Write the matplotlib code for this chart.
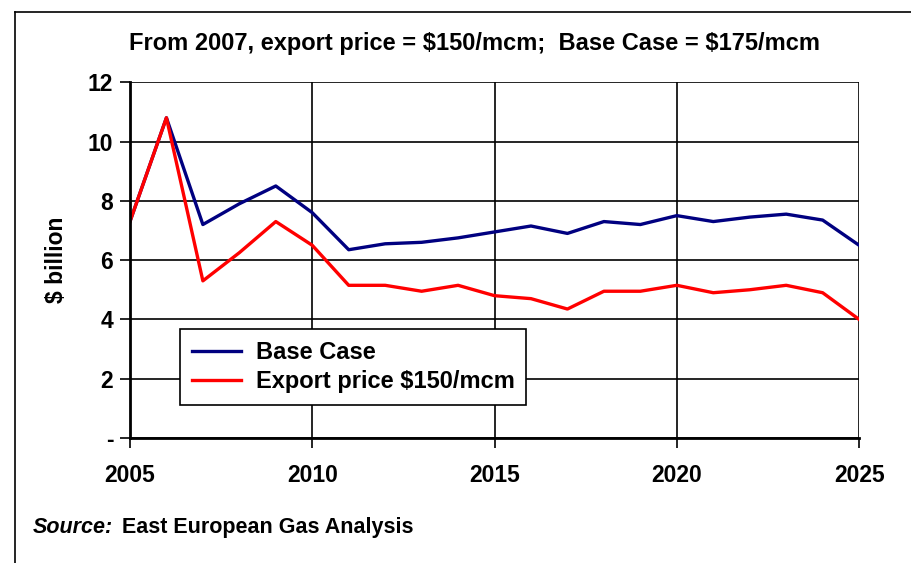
import matplotlib
matplotlib.use("Agg")
from matplotlib import pyplot as plt
from matplotlib.lines import Line2D

years = list(range(2005, 2026))
base_case = [7.3, 10.8, 7.2, 7.9, 8.5, 7.6, 6.35, 6.55, 6.6, 6.75, 6.95,
             7.15, 6.9, 7.3, 7.2, 7.5, 7.3, 7.45, 7.55, 7.35, 6.5]
export_150 = [7.3, 10.8, 5.3, 6.25, 7.3, 6.5, 5.15, 5.15, 4.95, 5.15, 4.8,
              4.7, 4.35, 4.95, 4.95, 5.15, 4.9, 5.0, 5.15, 4.9, 4.0]
y_ticks = [0, 2, 4, 6, 8, 10, 12]
y_labels = ['-', '2', '4', '6', '8', '10', '12']
x_ticks = [2005, 2010, 2015, 2020, 2025]

plt.rcParams['font.family'] = ['Liberation Sans', 'DejaVu Sans']
plt.rcParams['font.weight'] = 'bold'
plt.rcParams['text.parse_math'] = False

fig = plt.figure(figsize=(9.12, 5.63), dpi=100)
ax = fig.add_axes([0.1425, 0.222, 0.7995, 0.632])

# 线条
ax.plot(years, base_case, color='#000080', lw=2.4, label='Base Case')
ax.plot(years, export_150, color='#ff0000', lw=2.4, label='Export price $150/mcm')

ax.set_xlim(2005, 2025)
ax.set_ylim(0, 12)
ax.set_xticks(x_ticks)
ax.set_yticks(y_ticks)
ax.set_yticklabels(y_labels)
ax.grid(True, color='black', lw=1.2)
ax.tick_params(axis='both', direction='out', length=7, width=1.2, labelsize=16.5, pad=5)
ax.tick_params(axis='x', pad=12)
for s in ['top', 'right']:
    ax.spines[s].set_visible(False)
for s in ['left', 'bottom']:
    ax.spines[s].set_linewidth(2)

ax.set_ylabel('$ billion', fontsize=16.5, fontweight='bold', labelpad=14)

# 图例
leg = ax.legend(loc='lower left', bbox_to_anchor=(0.0686, 0.093), borderaxespad=0,
                fontsize=17, frameon=True, fancybox=False, edgecolor='black',
                framealpha=1, handlelength=2.1, handletextpad=0.6,
                borderpad=0.5, labelspacing=0.25)
leg.get_frame().set_linewidth(1.2)

fig.text(0.52, 0.923, 'From 2007, export price = $150/mcm;  Base Case = $175/mcm',
         ha='center', va='center', fontsize=17, fontweight='bold')
fig.text(0.036, 0.063, 'Source:', style='italic', fontsize=15.5, fontweight='bold',
         ha='left', va='center')
fig.text(0.134, 0.063, 'East European Gas Analysis', fontsize=15.5, fontweight='bold',
         ha='left', va='center')

# 外框
fig.add_artist(Line2D([0.0165, 0.0165], [0, 0.979], color='black', lw=1.2))
fig.add_artist(Line2D([0.0165, 1.0], [0.979, 0.979], color='black', lw=1.2))

fig.savefig('out.png', dpi=100)
